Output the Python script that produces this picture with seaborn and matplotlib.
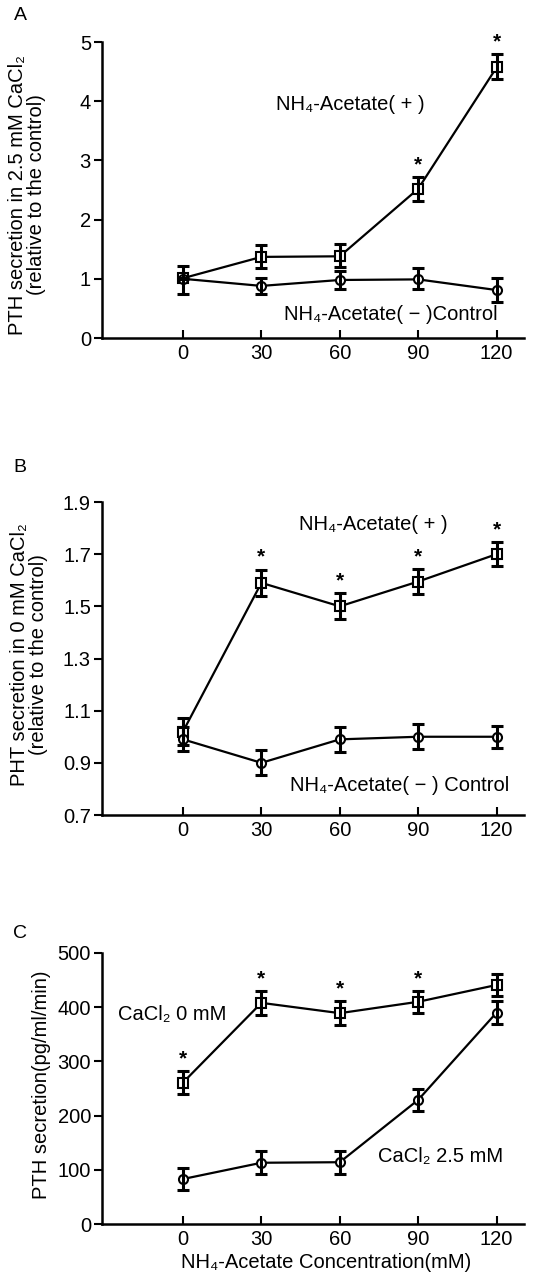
import matplotlib
matplotlib.use("Agg")
import matplotlib.pyplot as plt
import seaborn as sns
import numpy as np

# ---------------- data ----------------
conc = [0, 30, 60, 90, 120]
conc_ticks = [0, 30, 60, 90, 120]

# Panel A (2.5 mM CaCl2, relative to control)
a_plus = [1.01, 1.37, 1.38, 2.52, 4.57]
a_plus_lo = [0.0, 0.18, 0.18, 0.20, 0.20]
a_plus_hi = [0.20, 0.20, 0.20, 0.20, 0.22]
a_plus_sig = [False, False, False, True, True]
a_minus = [1.00, 0.88, 0.98, 0.99, 0.81]
a_minus_lo = [0.26, 0.13, 0.16, 0.17, 0.20]
a_minus_hi = [0.0, 0.13, 0.16, 0.19, 0.20]
a_yticks = [0, 1, 2, 3, 4, 5]

# Panel B (0 mM CaCl2, relative to control)
b_plus = [1.02, 1.59, 1.50, 1.595, 1.70]
b_plus_err = [0.05, 0.05, 0.05, 0.048, 0.045]
b_plus_sig = [False, True, True, True, True]
b_minus = [0.99, 0.90, 0.99, 1.00, 1.00]
b_minus_err = [0.046, 0.048, 0.048, 0.048, 0.043]
b_yticks = [0.7, 0.9, 1.1, 1.3, 1.5, 1.7, 1.9]
b_yticklabels = ["0.7", "0.9", "1.1", "1.3", "1.5", "1.7", "1.9"]

# Panel C (absolute PTH secretion, pg/ml/min)
c_ca0 = [261, 408, 389, 410, 441]
c_ca0_err = [21, 22, 22, 20, 20]
c_ca0_sig = [True, True, True, True, False]
c_ca25 = [83, 113, 114, 229, 390]
c_ca25_err = [21, 21, 21, 21, 21]
c_yticks = [0, 100, 200, 300, 400, 500]

# ---------------- style ----------------
sns.set_style("ticks")
plt.rcParams["font.family"] = ["Liberation Sans", "DejaVu Sans"]
plt.rcParams["axes.linewidth"] = 1.8
plt.rcParams["axes.edgecolor"] = "black"
plt.rcParams["text.color"] = "black"
plt.rcParams["xtick.color"] = "black"
plt.rcParams["ytick.color"] = "black"
plt.rcParams["axes.labelcolor"] = "black"

W, H = 541, 1274
fig = plt.figure(figsize=(W / 100, H / 100), dpi=100)

def px_axes(left, right, top, bottom):
    return fig.add_axes([left / W, 1 - bottom / H, (right - left) / W, (bottom - top) / H])

XLIM = (-31, 130.5)
LW = 1.6
MS = 6.5
TICK_FS = 14.5
ANN_FS = 14.5

def series(ax, y, lo, hi, marker):
    sns.lineplot(x=conc, y=y, ax=ax, color="black", linewidth=LW, marker=marker,
                 markersize=MS, markerfacecolor="white", markeredgecolor="black",
                 markeredgewidth=1.5, legend=False, zorder=3)
    ax.errorbar(conc, y, yerr=[lo, hi], fmt="none", ecolor="black",
                elinewidth=2.2, capsize=4.2, capthick=2.2, zorder=4)

def stars(ax, y, hi, sig):
    for xi, yi, hii, s in zip(conc, y, hi, sig):
        if s:
            ax.annotate("*", (xi, yi + hii), xytext=(0, 9), textcoords="offset points",
                        ha="center", va="center", fontsize=15, fontweight="bold")

def style_axes(ax, ylim, yticks, yticklabels=None):
    ax.set_xlim(*XLIM)
    ax.set_ylim(*ylim)
    ax.set_xticks(conc_ticks)
    ax.set_xticklabels([str(t) for t in conc_ticks])
    ax.set_yticks(yticks)
    if yticklabels is not None:
        ax.set_yticklabels(yticklabels)
    sns.despine(ax=ax)
    ax.tick_params(axis="x", direction="in", length=6, width=1.5, labelsize=TICK_FS, pad=4)
    ax.tick_params(axis="y", direction="out", length=6, width=1.5, labelsize=TICK_FS, pad=2)
    ax.set_xlabel("")
    ax.set_ylabel("")
    ax.patch.set_alpha(0)

# ---- Panel A ----
axA = px_axes(102, 524, 42, 338)
series(axA, a_plus, a_plus_lo, a_plus_hi, "s")
series(axA, a_minus, a_minus_lo, a_minus_hi, "o")
stars(axA, a_plus, a_plus_hi, a_plus_sig)
style_axes(axA, (0, 5), a_yticks)
axA.text(64, 3.94, "NH₄-Acetate( + )", ha="center", va="center", fontsize=ANN_FS)
axA.text(79.5, 0.39, "NH₄-Acetate( − )Control", ha="center", va="center", fontsize=ANN_FS)

# ---- Panel B ----
axB = px_axes(102, 524, 502, 815)
series(axB, b_plus, b_plus_err, b_plus_err, "s")
series(axB, b_minus, b_minus_err, b_minus_err, "o")
stars(axB, b_plus, b_plus_err, b_plus_sig)
style_axes(axB, (0.7, 1.9), b_yticks, b_yticklabels)
axB.text(73, 1.812, "NH₄-Acetate( + )", ha="center", va="center", fontsize=ANN_FS)
axB.text(83, 0.815, "NH₄-Acetate( − ) Control", ha="center", va="center", fontsize=ANN_FS)

# ---- Panel C ----
axC = px_axes(102, 524, 953, 1224)
series(axC, c_ca0, c_ca0_err, c_ca0_err, "s")
series(axC, c_ca25, c_ca25_err, c_ca25_err, "o")
stars(axC, c_ca0, c_ca0_err, c_ca0_sig)
style_axes(axC, (0, 500), c_yticks)
axC.text(-4.2, 386, "CaCl₂ 0 mM", ha="center", va="center", fontsize=ANN_FS)
axC.text(98.6, 124, "CaCl₂ 2.5 mM", ha="center", va="center", fontsize=ANN_FS)

# ---- labels ----
def ftext(x, y, s, **kw):
    fig.text(x / W, 1 - y / H, s, **kw)

ftext(27, 195, "PTH secretion in 2.5 mM CaCl₂\n(relative to the control)", rotation=90,
      ha="center", va="center", fontsize=14.5, linespacing=1.05, multialignment="center")
ftext(29, 655, "PHT secretion in 0 mM CaCl₂\n(relative to the control)", rotation=90,
      ha="center", va="center", fontsize=14.5, linespacing=1.05, multialignment="center")
ftext(42, 1085, "PTH secretion(pg/ml/min)", rotation=90, ha="center", va="center", fontsize=14.5)
ftext(326, 1263, "NH₄-Acetate Concentration(mM)", ha="center", va="center", fontsize=14.5)

ftext(20, 15, "A", ha="center", va="center", fontsize=14)
ftext(20, 467, "B", ha="center", va="center", fontsize=14)
ftext(20, 933, "C", ha="center", va="center", fontsize=14)

fig.savefig("out.png", dpi=100)
